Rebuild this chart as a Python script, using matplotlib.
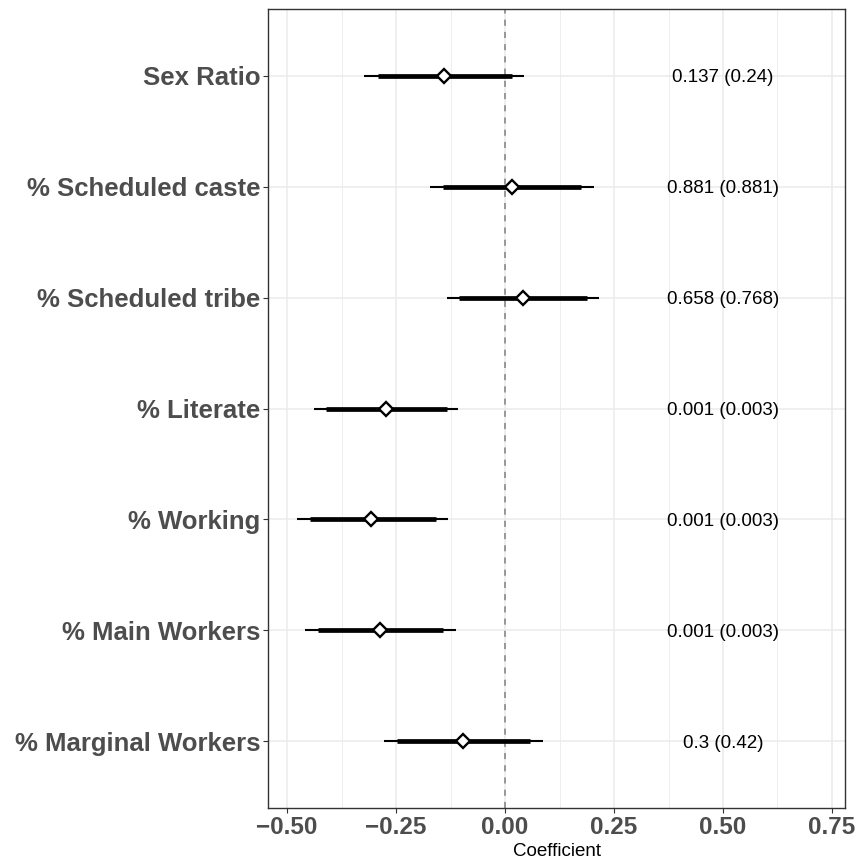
import matplotlib
matplotlib.use("Agg")
import matplotlib.pyplot as plt
import numpy as np

plt.rcParams['font.family'] = ['Liberation Sans', 'DejaVu Sans']

# variables from top to bottom
labels = ['Sex Ratio', '% Scheduled caste', '% Scheduled tribe', '% Literate',
          '% Working', '% Main Workers', '% Marginal Workers']
coef = [-0.139, 0.015, 0.040, -0.273, -0.307, -0.287, -0.096]
outer_lo = [-0.323, -0.172, -0.134, -0.438, -0.477, -0.459, -0.278]
outer_hi = [0.044, 0.203, 0.216, -0.109, -0.132, -0.112, 0.086]
inner_lo = [-0.292, -0.142, -0.105, -0.411, -0.448, -0.429, -0.248]
inner_hi = [0.015, 0.174, 0.187, -0.134, -0.159, -0.142, 0.057]
pvals = ['0.137 (0.24)', '0.881 (0.881)', '0.658 (0.768)', '0.001 (0.003)',
         '0.001 (0.003)', '0.001 (0.003)', '0.3 (0.42)']

W, H = 861, 865
fig = plt.figure(figsize=(W / 100, H / 100), dpi=100)
ax = fig.add_axes([268 / W, 1 - 808 / H, (845 - 268) / W, (808 - 9) / H])

n = len(labels)
y = np.arange(n, 0, -1)  # first label on top

# grid, ggplot theme_bw style
for v in np.arange(-0.375, 0.8, 0.25):
    ax.axvline(v, color='#EBEBEB', lw=0.6, zorder=0)
for v in np.arange(-0.5, 0.8, 0.25):
    ax.axvline(v, color='#EBEBEB', lw=1.1, zorder=0)
for yy in y:
    ax.axhline(yy, color='#EBEBEB', lw=1.1, zorder=0)

ax.axvline(0, color='#7F7F7F', lw=1.1, ls=(0, (4, 4)), zorder=1)

ax.hlines(y, outer_lo, outer_hi, color='black', lw=1.5, zorder=2)
ax.hlines(y, inner_lo, inner_hi, color='black', lw=3.4, zorder=3)
ax.plot(coef, y, ls='none', marker='D', ms=7.5, mfc='white', mec='black',
        mew=1.7, zorder=4)

for yy, t in zip(y, pvals):
    ax.text(0.5, yy, t, ha='center', va='center_baseline', fontsize=13.5,
            color='black')

ax.set_xlim(-0.544, 0.78)
ax.set_ylim(1 - 0.6, n + 0.6)
ax.set_xticks([-0.5, -0.25, 0, 0.25, 0.5, 0.75])
ax.set_xticklabels(['\u22120.50', '\u22120.25', '0.00', '0.25', '0.50', '0.75'],
                   fontsize=17.5, fontweight='bold', color='#4D4D4D')
ax.set_yticks(y)
ax.set_yticklabels(labels, fontsize=18.5, fontweight='bold', color='#4D4D4D')
ax.tick_params(length=3.5, width=0.8, color='#333333', pad=2)
ax.set_xlabel('Coefficient', fontsize=13.5, labelpad=3)

for s in ax.spines.values():
    s.set_color('#333333')
    s.set_linewidth(1.0)

fig.savefig('out.png', dpi=100)
